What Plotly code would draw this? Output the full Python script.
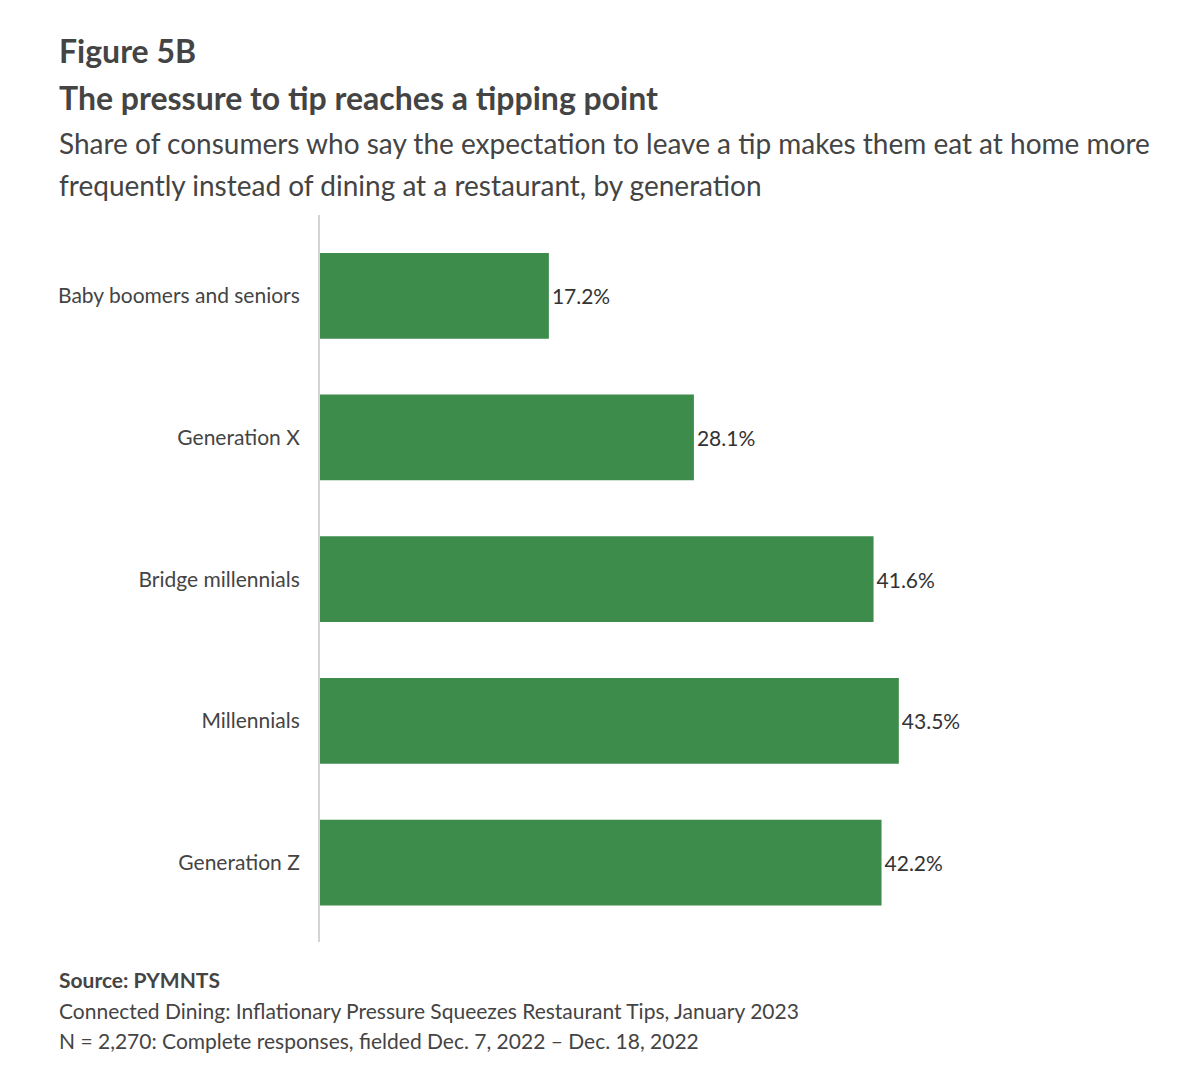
import plotly.graph_objects as go

categories = ["Baby boomers and seniors", "Generation X", "Bridge millennials", "Millennials", "Generation Z"]
values = [17.2, 28.1, 41.6, 43.5, 42.2]
labels = [f"{v:.1f}%" for v in values]

W, H = 1178, 1072
OFF = 8  # page body offset
L, R, T, B = 320 - OFF, 33 + OFF, 215 - OFF, 130 + OFF
ph = H - T - B
pw = W - L - R

def py(ypix):
    return (H - B - (ypix - OFF)) / ph

def px(xpix):
    return ((xpix - OFF) - L) / pw

FONT = "Lato, 'Noto Sans', sans-serif"
TXT = "#444444"

fig = go.Figure(go.Bar(
    x=values, y=categories, orientation="h",
    marker=dict(color="#3d8c4b", line=dict(width=0)),
    text=labels, textposition="outside", cliponaxis=False,
    textfont=dict(family=FONT, size=21, color="#333333"),
    hoverinfo="skip",
))

fig.update_layout(
    width=W, height=H,
    margin=dict(l=L, r=R, t=T, b=B),
    paper_bgcolor="white", plot_bgcolor="white",
    bargap=0.395, showlegend=False,
    font=dict(family=FONT, color=TXT),
    xaxis=dict(range=[0, 62], showticklabels=False, showgrid=False, zeroline=False, showline=False),
    yaxis=dict(categoryorder="array", categoryarray=categories, range=[4.56, -0.57],
               showline=True, linecolor="#d4d4d4", linewidth=2, showgrid=False, zeroline=False,
               ticks="", ticklabelstandoff=14,
               tickfont=dict(family=FONT, size=21, color=TXT)),
)

notes = [
    ("<b>Figure 5B</b>", 50, 32),
    ("<b>The pressure to tip reaches a tipping point</b>", 97, 32),
    ("Share of consumers who say the expectation to leave a tip makes them eat at home more", 143, 28),
    ("frequently instead of dining at a restaurant, by generation", 185, 28),
    ("<b>Source: PYMNTS</b>", 979, 21),
    ("Connected Dining: Inflationary Pressure Squeezes Restaurant Tips, January 2023", 1010, 21),
    ("N = 2,270: Complete responses, fielded Dec. 7, 2022 – Dec. 18, 2022", 1040, 21),
]
for text, y, size in notes:
    fig.add_annotation(text=text, xref="paper", yref="paper", x=px(57), y=py(y),
                       xanchor="left", yanchor="middle", showarrow=False,
                       font=dict(family=FONT, size=size, color=TXT))

fig.write_html("out.html")
